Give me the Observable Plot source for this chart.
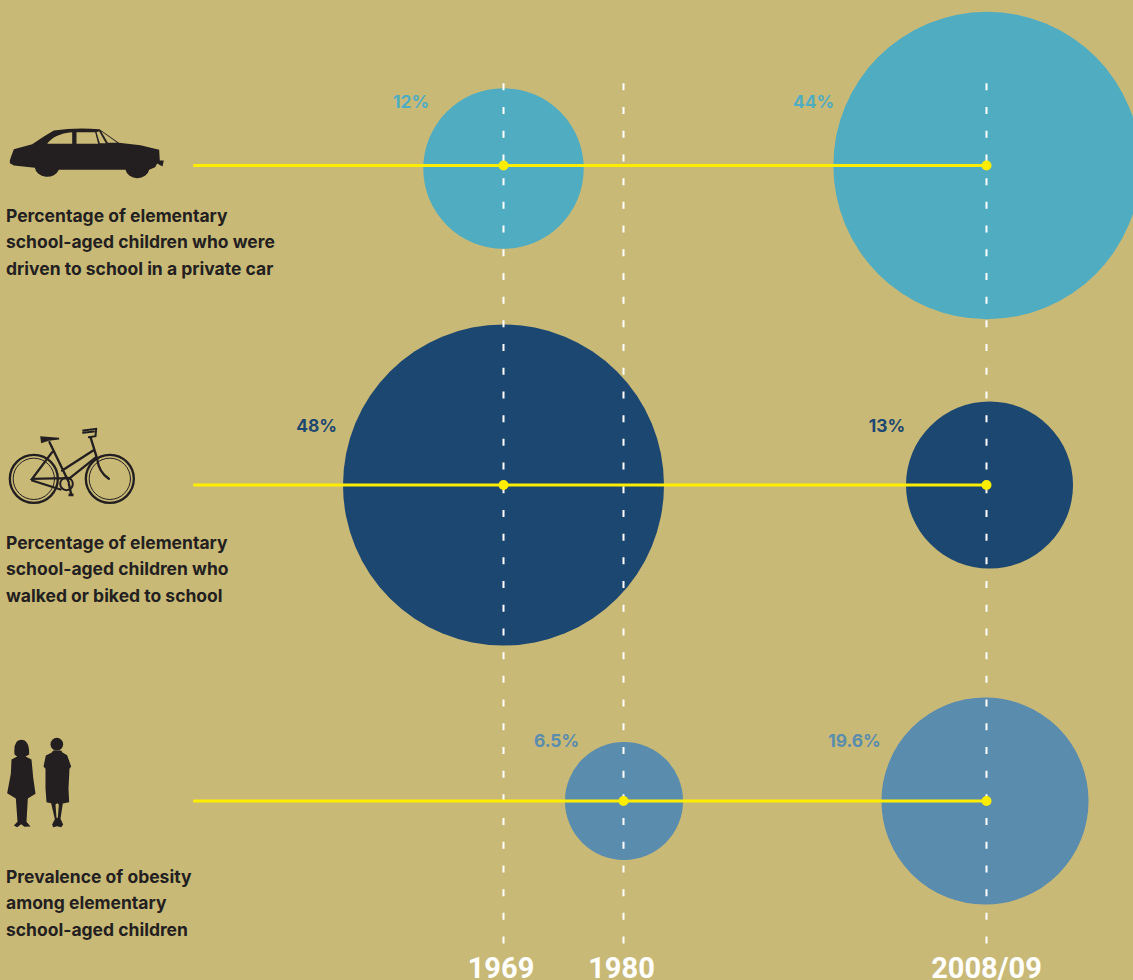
<!DOCTYPE html>
<html>
<head>
<meta charset="utf-8">
<script src="https://cdn.jsdelivr.net/npm/d3@7"></script>
<script src="https://cdn.jsdelivr.net/npm/@observablehq/plot@0.6"></script>
<style>
html,body{margin:0;padding:0;background:#c9b977;}
svg{display:block;}
</style>
</head>
<body>
<div id="chart"></div>
<script>
const years = [1969, 1980, 2008.5];
const yearLabels = ["1969", "1980", "2008/09"];
const rows = [0, 1, 2];
const rowColors = ["#50adc1", "#1c4770", "#5a8cae"];
const rowYearsObserved = [[1969, 2008.5], [1969, 2008.5], [1980, 2008.5]];
const rowValues = [[12, 44], [48, 13], [6.5, 19.6]];
const descriptions = [
  "Percentage of elementary\nschool-aged children who were\ndriven to school in a private car",
  "Percentage of elementary\nschool-aged children who\nwalked or biked to school",
  "Prevalence of obesity\namong elementary\nschool-aged children"
];
const lineStartYear = 1940.6;
const guideTop = -0.2556;
const guideBottom = 2.454;

const observations = rows.flatMap(r => rowValues[r].map((v, i) => ({
  row: r, year: rowYearsObserved[r][i], value: v, color: rowColors[r], label: v + "%"
})));

const ink = "#231f20";
const font = "Inter, 'Noto Sans', sans-serif";
const svgUri = (w, h, vb, body) => "data:image/svg+xml," + encodeURIComponent(
  `<svg xmlns="http://www.w3.org/2000/svg" width="${w}" height="${h}" viewBox="${vb}">${body}</svg>`);

const carIcon = svgUri(170, 56.67, "0 40 510 170", `
<path fill="${ink}" fill-rule="evenodd" d="M28 150 L31 140 L40 116 L95 101 L130 78 L160 60 Q225 50 297 56 L355 97 L420 104 L476 118 L478 150 L490 150 L486 168 L470 159 L464 170 L446 178 A36 30 0 0 1 375 178 L175 178 A37 30 0 0 1 103 172 L40 165 L28 158 Z
M140 100 Q160 70 215 65 L215 100 Z M228 65 L284 65 L293 100 L228 100 Z M288 65 L296 62 L316 98 L298 98 Z"/>
<path fill="#c9b977" d="M302 62 L350 97 L322 97 Z"/>`);

const bikeIcon = svgUri(240, 100, "0 0 720 300", `
<g fill="none" stroke="${ink}" stroke-linecap="round">
<circle cx="100" cy="190" r="72" stroke-width="7"/><circle cx="100" cy="190" r="62" stroke-width="3"/>
<circle cx="328" cy="190" r="72" stroke-width="7"/><circle cx="328" cy="190" r="62" stroke-width="3"/>
<circle cx="198" cy="205" r="19" stroke-width="6"/>
<path stroke-width="7" d="M147 80 L205 200 M155 110 L95 190 L200 188 M95 195 L180 222 M185 165 L278 105 M205 190 L287 125 M270 65 L290 130 Q295 170 325 190 M205 205 L212 236"/>
<path stroke-width="6" d="M248 45 L287 40 L285 62 L265 65 M248 52 L280 48"/>
</g>
<path fill="${ink}" d="M119 62 L176 67 L176 72 L145 76 L122 83 Z M204 234 L219 234 L219 242 L204 242 Z"/>`);

const peopleIcon = svgUri(210, 110, "0 0 630 330", `
<path fill="${ink}" d="M42 72 Q38 28 62 28 Q87 28 86 72 L75 78 L93 87 L98 140 L105 190 L82 204 L78 274 L90 288 L72 289 L62 281 L50 290 L40 285 L51 274 L46 204 L20 188 L31 130 L33 87 L50 78 Z"/>
<circle fill="${ink}" cx="169" cy="41" r="19"/>
<path fill="${ink}" fill-rule="evenodd" d="M158 60 L182 60 L186 66 L200 74 L212 108 L207 115 L204 175 L206 215 L187 219 L180 265 L188 282 L182 290 L170 287 L158 290 L155 282 L163 266 L152 218 L138 215 L135 175 L135 115 L129 108 L136 75 L154 66 Z
M170 218 L175 222 L172 262 L168 262 L165 222 Z"/>`);

const descText = (i, dy) => Plot.text([descriptions[i]], {
  y: () => rows[i], frameAnchor: "left", dx: 5.5, dy,
  textAnchor: "start", lineAnchor: "middle", lineHeight: 1.515,
  fontSize: 17.5, fontWeight: 700, fill: ink, fontFamily: font
});

const pctText = (i, dx, dy) => Plot.text([observations[i]], {
  x: "year", y: "row", text: "label", dx, dy,
  fill: "color", fontSize: 17.4, fontWeight: 700, fontFamily: font
});

const yearText = (i, dx) => Plot.text([yearLabels[i]], {
  x: () => years[i], frameAnchor: "bottom", dx, dy: -11.5,
  textAnchor: "middle", lineAnchor: "middle",
  fill: "#fff", fontSize: 29, fontWeight: 700, fontFamily: "Roboto, sans-serif"
});

const chart = Plot.plot({
  width: 1133,
  height: 980,
  margin: 0,
  style: {background: "#c9b977", overflow: "hidden"},
  x: {type: "linear", domain: years, range: [503, 623, 986], axis: null},
  y: {type: "linear", domain: rows, range: [165, 484.5, 800.5], axis: null},
  r: {type: "sqrt", domain: [0, 48], range: [0, 160.5]},
  marks: [
    Plot.dot([observations[0]], {x: "year", y: "row", r: "value", fill: "color", dy: 3}),
    Plot.dot([observations[1]], {x: "year", y: "row", r: "value", fill: "color", dx: 0.5}),
    Plot.dot([observations[2]], {x: "year", y: "row", r: "value", fill: "color"}),
    Plot.dot([observations[3]], {x: "year", y: "row", r: "value", fill: "color", dx: 3}),
    Plot.dot([observations[4]], {x: "year", y: "row", r: "value", fill: "color", dx: 0.5}),
    Plot.dot([observations[5]], {x: "year", y: "row", r: "value", fill: "color", stroke: "color", strokeWidth: 2, dx: -1.5}),
    Plot.ruleX(years, {x: d => d, y1: () => guideTop, y2: () => guideBottom, stroke: "#fff", strokeWidth: 2, strokeDasharray: "7 16.7"}),
    Plot.ruleY(rows, {y: d => d, x1: () => lineStartYear, x2: () => years[2], stroke: "#ffed00", strokeWidth: 3}),
    Plot.dot(observations, {x: "year", y: "row", symbol: "circle", r: 5, fill: "#ffed00"}),
    pctText(0, -92.5, -63),
    pctText(1, -173, -63),
    pctText(2, -187, -58.5),
    pctText(3, -99.5, -58.5),
    pctText(4, -67, -59.5),
    pctText(5, -132, -59.5),
    Plot.image([0], {y: 0, frameAnchor: "left", dx: 85, dy: -13.33, src: carIcon, width: 170, height: 56.67}),
    Plot.image([1], {y: 1, frameAnchor: "left", dx: 120, dy: -19.5, src: bikeIcon, width: 240, height: 100}),
    Plot.image([2], {y: 2, frameAnchor: "left", dx: 105, dy: -15.5, src: peopleIcon, width: 210, height: 110}),
    descText(0, 74.5),
    descText(1, 82),
    descText(2, 100),
    yearText(0, -2.5),
    yearText(1, -2),
    yearText(2, 0)
  ]
});
document.getElementById("chart").append(chart);
</script>
</body>
</html>
